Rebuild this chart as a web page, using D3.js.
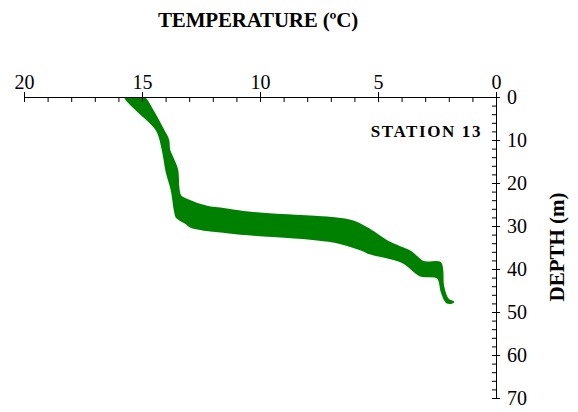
<!DOCTYPE html>
<html>
<head>
<meta charset="utf-8">
<script src="https://cdn.jsdelivr.net/npm/d3@7"></script>
<style>
  body { margin: 0; background: #fff; }
  text { font-family: "Liberation Serif", "Times New Roman", serif; fill: #000; }
</style>
</head>
<body>
<svg id="chart" width="578" height="412"></svg>
<script>
// temperature profile, station 13 - outline of the plotted band
// shallow / cold side of the trace (going down)
var coldDepth = [0, 3, 7.7, 10, 12.3, 14, 17, 21, 23, 24, 25.6, 26, 26.8, 27.4, 28.1, 29, 31, 34, 36, 38.4, 38.6, 40.2, 44, 47.2, 47.7];
var coldTemp = [14.96, 14.58, 14.11, 13.9, 13.86, 13.73, 13.52, 13.47, 13.39, 13.09, 12.25, 11.69, 10.72, 9.45, 7.16, 6.06, 5.34, 4.49, 3.64, 3.09, 2.37, 2.29, 2.25, 2.03, 1.82];
// deep / warm side of the trace (going down)
var warmDepth = [0, 3, 7.7, 12.3, 17.5, 21.6, 26.3, 27.9, 29.3, 30.2, 31.4, 32.1, 32.3, 33.7, 35.6, 36.3, 38.4, 41.4, 42, 45.3, 47.7];
var warmTemp = [15.7, 15.21, 14.36, 14.11, 13.94, 13.73, 13.6, 13.52, 13.13, 12.9, 11.4, 10.0, 9.28, 6.74, 5.64, 5.34, 3.94, 3.22, 2.46, 2.29, 2.08];

var tempTicks = [20, 15, 10, 5, 0];
var depthTicks = [0, 10, 20, 30, 40, 50, 60, 70];

function drawChart() {
  var svg = d3.select("#chart");

  var x = d3.scaleLinear().domain([20, 0]).range([24, 496]);
  var y = d3.scaleLinear().domain([0, 70]).range([97, 398]);

  svg.append("clipPath").attr("id", "plot-clip")
    .append("rect")
    .attr("x", x(20)).attr("y", y(0))
    .attr("width", x(0) - x(20)).attr("height", y(70) - y(0));

  // outline polygon: cold edge down, warm edge back up
  var pts = coldDepth.map((d, i) => [coldTemp[i], d]);
  for (var i = warmDepth.length - 1; i >= 0; i--) pts.push([warmTemp[i], warmDepth[i]]);

  var line = d3.line()
    .x(d => x(d[0]))
    .y(d => y(d[1]))
    .curve(d3.curveCatmullRomClosed.alpha(0.5));

  svg.append("path")
    .attr("d", line(pts))
    .attr("clip-path", "url(#plot-clip)")
    .attr("fill", "#008000")
    .attr("stroke", "#008000")
    .attr("stroke-width", 2.5)
    .attr("stroke-linejoin", "round");

  // x axis (top)
  var minorX = d3.range(0, 21, 1);
  svg.append("g")
    .attr("transform", "translate(0,97)")
    .call(d3.axisBottom(x).tickValues(minorX).tickSize(5).tickSizeOuter(0).tickFormat(""))
    .call(g => g.select(".domain").remove());

  var gx = svg.append("g")
    .attr("transform", "translate(0,97)")
    .call(d3.axisTop(x).tickValues(tempTicks).tickSize(5).tickSizeOuter(0).tickPadding(3).tickFormat(d3.format("d")));
  gx.selectAll("text").style("font-size", "20px").attr("font-family", null);

  // y axis (right)
  var minorY = d3.range(0, 71, 2);
  svg.append("g")
    .attr("transform", "translate(496,0)")
    .call(d3.axisLeft(y).tickValues(minorY).tickSize(4).tickSizeOuter(0).tickFormat(""))
    .call(g => g.select(".domain").remove());

  var gy = svg.append("g")
    .attr("transform", "translate(496,0)")
    .call(d3.axisRight(y).tickValues(depthTicks).tickSize(4).tickSizeOuter(0).tickPadding(7));
  gy.selectAll("text").style("font-size", "20px").attr("font-family", null);

  svg.selectAll(".tick line, .domain").attr("stroke", "#000");

  // titles
  svg.append("text")
    .attr("x", 258).attr("y", 27)
    .attr("text-anchor", "middle")
    .style("font-size", "21px").style("font-weight", "bold")
    .style("letter-spacing", "-0.2px")
    .text("TEMPERATURE (ºC)");

  svg.append("text")
    .attr("transform", "translate(564,247) rotate(-90)")
    .attr("text-anchor", "middle")
    .style("font-size", "21px").style("font-weight", "bold")
    .text("DEPTH (m)");

  svg.append("text")
    .attr("x", 482).attr("y", 137)
    .attr("text-anchor", "end")
    .style("font-size", "17px").style("font-weight", "bold")
    .style("letter-spacing", "1.6px")
    .text("STATION 13");
}

drawChart();
</script>
</body>
</html>
